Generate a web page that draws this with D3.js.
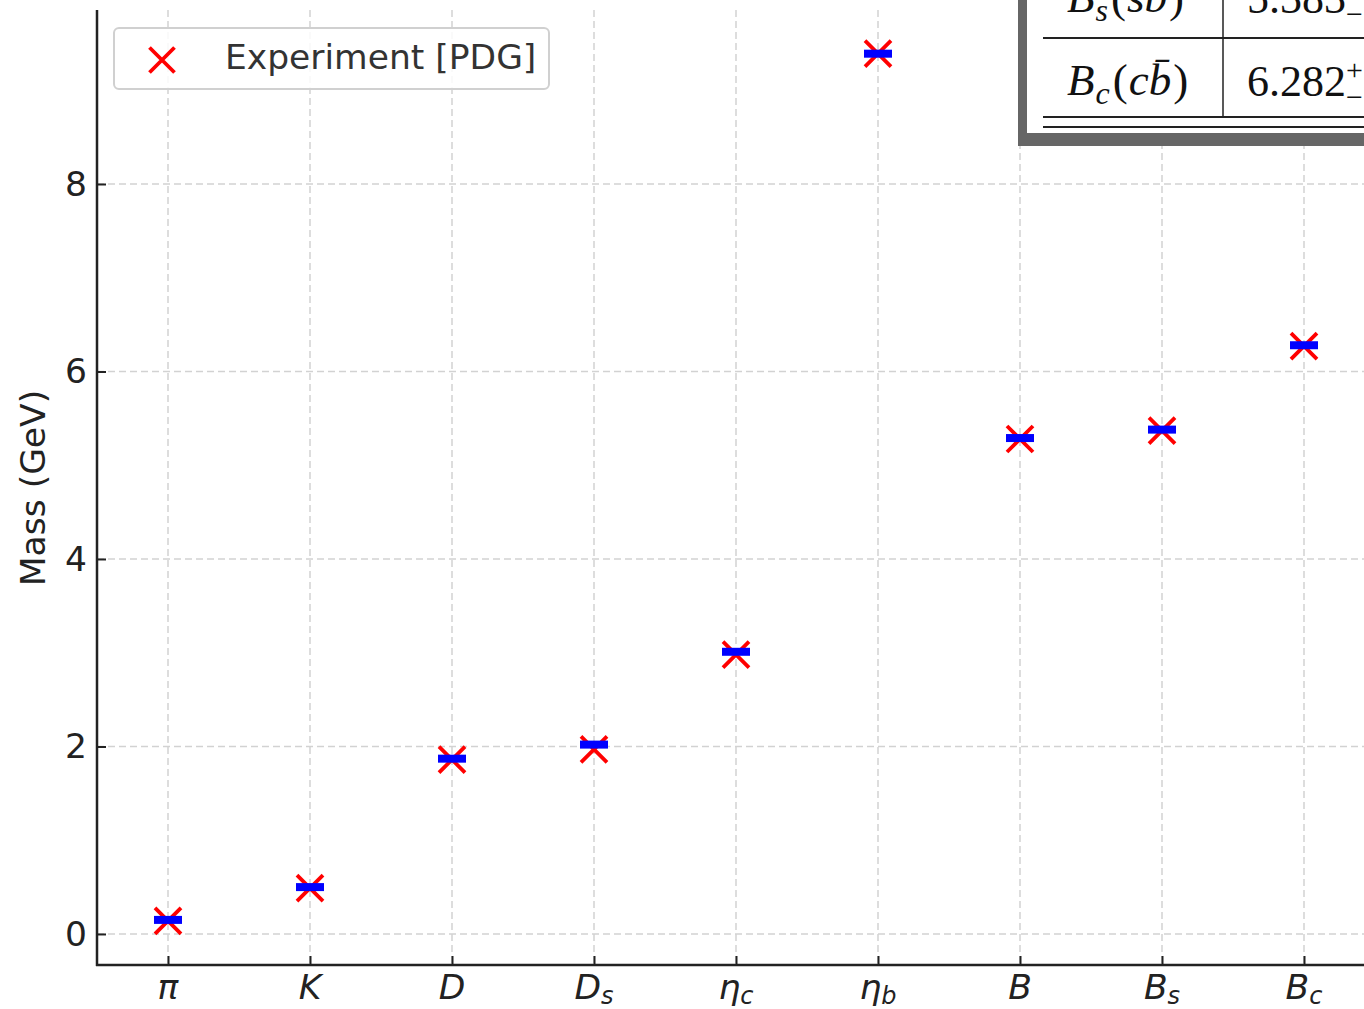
<!DOCTYPE html>
<html>
<head>
<meta charset="utf-8">
<script src="https://cdn.jsdelivr.net/npm/d3@7"></script>
<style>
  html, body { margin: 0; padding: 0; background: #fff; }
  svg { display: block; }
</style>
</head>
<body>
<svg id="chart" width="1364" height="1009"></svg>
<script>
// ---- data ----
const categories = ["π", "K", "D", "D_s", "η_c", "η_b", "B", "B_s", "B_c"];
const experimentMass = [0.14, 0.49, 1.86, 1.97, 2.98, 9.39, 5.28, 5.37, 6.27];
const modelMass = [0.15, 0.50, 1.87, 2.02, 3.01, 9.39, 5.29, 5.38, 6.28];
const yTicks = [0, 2, 4, 6, 8];
const legendLabel = "Experiment [PDG]";
const yLabel = "Mass (GeV)";
const tableMesons = [["B", "s", "s"], ["B", "c", "c"]]; // [base, sub, quark] -> B_sub(quark b̄)
const tableValues = ["5.383", "6.282"];

(function () {
// ---- layout ----
const svg = d3.select("#chart");
const W = 1364, H = 1009;
const padL = 97, padB = 965, padT = 10;
const x = d3.scaleLinear().domain([-0.5, 8.5]).range([padL, padL + 9 * 142]);
const y = d3.scaleLinear().domain([-0.331, 9.856]).range([padB, padT]);
const font = "'DejaVu Sans', sans-serif";
const ink = "#222";
const fs = 34.5;

// grid
const grid = svg.append("g");
grid.selectAll("line.gx").data(categories).enter().append("line")
  .attr("x1", (d, i) => x(i)).attr("x2", (d, i) => x(i))
  .attr("y1", padT).attr("y2", padB)
  .attr("stroke", "#d2d2d2").attr("stroke-width", 1.5).attr("stroke-dasharray", "7,4");
grid.selectAll("line.gy").data(yTicks).enter().append("line")
  .attr("x1", padL).attr("x2", W)
  .attr("y1", d => y(d)).attr("y2", d => y(d))
  .attr("stroke", "#d2d2d2").attr("stroke-width", 1.5).attr("stroke-dasharray", "7,4");

// axes
const yAxis = d3.axisLeft(y).tickValues(yTicks).tickSizeInner(-9).tickSizeOuter(0).tickPadding(10);
const gy = svg.append("g").attr("transform", `translate(${padL},0)`).call(yAxis);
gy.select(".domain").remove();
gy.selectAll(".tick line").attr("stroke", ink).attr("stroke-width", 2);
gy.selectAll(".tick text").attr("font-family", font).attr("font-size", fs).attr("fill", ink);

const xAxis = d3.axisBottom(x).tickValues(d3.range(categories.length)).tickSizeInner(-9).tickSizeOuter(0).tickFormat(() => "");
const gx = svg.append("g").attr("transform", `translate(0,${padB})`).call(xAxis);
gx.select(".domain").remove();
gx.selectAll(".tick line").attr("stroke", ink).attr("stroke-width", 2);

// x tick labels (math italic with subscripts)
const xl = svg.append("g");
categories.forEach((c, i) => {
  const parts = c.split("_");
  const t = xl.append("text")
    .attr("x", x(i)).attr("y", 999)
    .attr("text-anchor", "middle")
    .attr("font-family", font).attr("font-style", "italic")
    .attr("font-size", fs).attr("fill", ink);
  t.append("tspan").text(parts[0]);
  if (parts[1]) {
    t.append("tspan").attr("font-size", 24).attr("dy", 5).text(parts[1]);
  }
});

// spines
svg.append("line").attr("x1", padL).attr("x2", padL).attr("y1", padT).attr("y2", padB + 1)
  .attr("stroke", ink).attr("stroke-width", 2.5);
svg.append("line").attr("x1", padL - 1).attr("x2", W).attr("y1", padB).attr("y2", padB)
  .attr("stroke", ink).attr("stroke-width", 2.5);

// y label
svg.append("text")
  .attr("transform", `translate(45,488) rotate(-90)`)
  .attr("text-anchor", "middle")
  .attr("font-family", font).attr("font-size", fs).attr("fill", ink)
  .text(yLabel);

// markers
const xs = 13;
function crossPath(cx, cy, s) {
  return `M${cx - s},${cy - s}L${cx + s},${cy + s}M${cx - s},${cy + s}L${cx + s},${cy - s}`;
}
svg.append("g").selectAll("path").data(experimentMass).enter().append("path")
  .attr("d", (d, i) => crossPath(x(i), y(d), xs))
  .attr("stroke", "#ff0000").attr("stroke-width", 3.8).attr("fill", "none");
svg.append("g").selectAll("rect").data(modelMass).enter().append("rect")
  .attr("x", (d, i) => x(i) - 14).attr("y", d => y(d) - 4)
  .attr("width", 28).attr("height", 8)
  .attr("fill", "#0000ff");

// legend
const lg = svg.append("g");
lg.append("rect").attr("x", 114).attr("y", 28).attr("width", 435).attr("height", 61).attr("rx", 5)
  .attr("fill", "rgba(255,255,255,0.85)").attr("stroke", "#d0d0d0").attr("stroke-width", 2);
lg.append("path").attr("d", crossPath(162, 60, 12.5))
  .attr("stroke", "#ff0000").attr("stroke-width", 3.8).attr("fill", "none");
lg.append("text").attr("x", 225).attr("y", 69)
  .attr("font-family", font).attr("font-size", fs).attr("fill", "#333")
  .text(legendLabel);

// inset table image (cropped)
const tb = svg.append("g");
tb.append("rect").attr("x", 1018).attr("y", -10).attr("width", 400).attr("height", 156)
  .attr("fill", "#666");
tb.append("rect").attr("x", 1027).attr("y", -10).attr("width", 400).attr("height", 143)
  .attr("fill", "#fff");
const serif = "'Liberation Serif', 'Times New Roman', serif";
tb.append("line").attr("x1", 1043).attr("x2", W).attr("y1", 38).attr("y2", 38).attr("stroke", "#222").attr("stroke-width", 2);
tb.append("line").attr("x1", 1223).attr("x2", 1223).attr("y1", 0).attr("y2", 117).attr("stroke", "#222").attr("stroke-width", 1.5);
tb.append("line").attr("x1", 1043).attr("x2", W).attr("y1", 117).attr("y2", 117).attr("stroke", "#222").attr("stroke-width", 2);
tb.append("line").attr("x1", 1043).attr("x2", W).attr("y1", 127).attr("y2", 127).attr("stroke", "#222").attr("stroke-width", 2);
const rowBase = [12, 95];
tableMesons.forEach((m, r) => {
  const t = tb.append("text").attr("x", 1067).attr("y", rowBase[r])
    .attr("font-family", serif).attr("font-size", 45).attr("font-style", "italic").attr("fill", "#111");
  t.append("tspan").text(m[0]);
  t.append("tspan").attr("font-size", 32).attr("dx", 1).attr("dy", 9).text(m[1]);
  t.append("tspan").attr("dx", 3).attr("dy", -9).attr("font-style", "normal").text("(");
  t.append("tspan").attr("dx", 1).text(m[2] + "b\u0304");
  t.append("tspan").attr("dx", 2).attr("font-style", "normal").text(")");
  const v = tb.append("text").attr("x", 1247).attr("y", rowBase[r] + 1)
    .attr("font-family", serif).attr("font-size", 44).attr("fill", "#111");
  v.append("tspan").text(tableValues[r]);
  v.append("tspan").attr("font-size", 30).attr("dy", -16).text("+");
  v.append("tspan").attr("font-size", 30).attr("dx", -17).attr("dy", 27).text("\u2212");
});
})();
</script>
</body>
</html>
